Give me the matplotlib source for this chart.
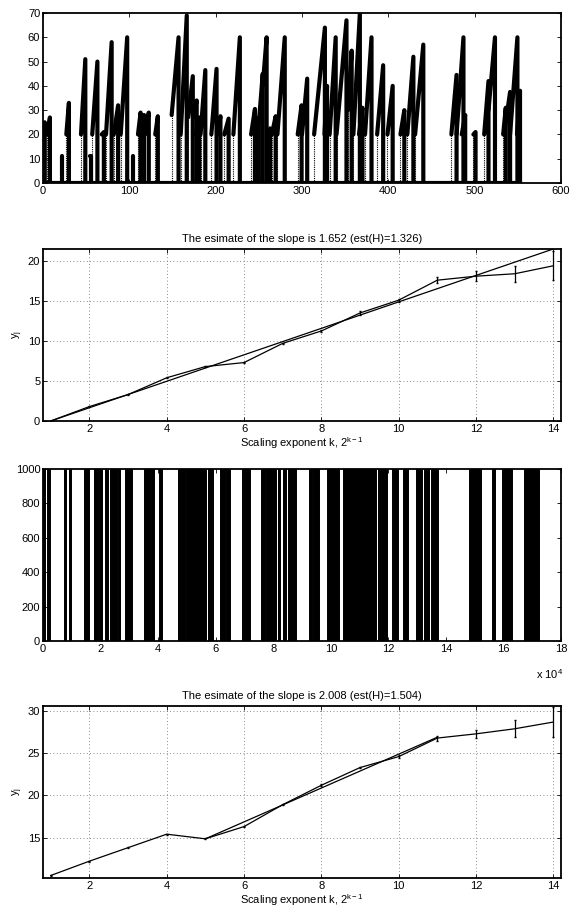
import matplotlib
matplotlib.use("Agg")
import matplotlib.pyplot as plt

plt.rcParams["font.family"] = ["Liberation Sans", "DejaVu Sans"]
plt.rcParams["mathtext.fontset"] = "custom"
plt.rcParams["mathtext.rm"] = "Liberation Sans"
plt.rcParams["mathtext.it"] = "Liberation Sans"

# --- panel 1: ramp spikes (start x, end x, base value, peak value)
spike_x0 = [0, 5, 22, 27, 44, 55, 57, 68, 73, 82, 90, 104, 110, 114, 118, 130,
            149, 159.5, 168, 174, 177, 182.5, 195, 202, 210, 220.5, 241, 246,
            250.5, 254.5, 260, 265, 271.5, 295, 300, 314, 326, 332, 340, 353,
            359.5, 366, 373, 387, 399, 414, 422, 431, 473, 479, 485, 498.5,
            511, 516, 533, 534, 541, 549]
spike_x1 = [2, 8, 22.5, 30, 49, 55.5, 63, 70.5, 79.5, 87, 97.5, 104.5, 113, 117,
            122.5, 133, 157, 166.5, 173.5, 178, 181, 188, 201, 205.5, 215, 228,
            245.5, 250, 254.5, 259, 263, 269.5, 280, 299.5, 306, 326.5, 329, 339,
            351.5, 357.5, 367, 370, 380.5, 394, 405, 418.5, 429, 440.5, 479, 487,
            489, 501, 516, 523.5, 536, 541, 549.5, 552.5]
spike_base = [20, 20, 11, 20, 20, 11, 20, 20, 20, 20, 20, 11, 20, 20, 20, 20,
              28, 20, 27, 27, 20, 20, 20, 20, 20, 20, 20, 20,
              27, 40, 20, 20, 20, 20, 20, 20, 20, 20, 20, 30,
              20, 20, 20, 20, 20, 20, 20, 20, 20, 20, 20, 20,
              20, 30, 20, 20, 20, 20]
spike_peak = [25, 27, 11, 33, 51, 11, 50, 21, 58, 32, 60, 11, 29, 28, 29, 27.5,
              60, 69, 44, 34, 27, 46.5, 47, 27.5, 26.5, 60, 30.5, 27,
              45, 60, 22.5, 27.5, 60, 32, 43, 64, 40, 60, 67, 54.5,
              70, 31, 60, 48.5, 40, 30, 52, 57, 44.5, 60, 28, 21,
              42, 60, 31, 37.5, 60, 38]
signal_end = 553

# --- panel 2: wavelet log-scale diagram, first series
k = [1, 2, 3, 4, 5, 6, 7, 8, 9, 10, 11, 12, 13, 14]
yj_a = [0, 1.8, 3.3, 5.4, 6.8, 7.3, 9.7, 11.25, 13.5, 15.1, 17.6, 18.1, 18.4, 19.4]
err_a = [0.05, 0.05, 0.05, 0.05, 0.05, 0.05, 0.1, 0.1, 0.2, 0.2, 0.4, 0.6, 1.0, 1.8]
fit_a_x = [1, 14]
fit_a_y = [0, 21.5]
title_a = "The esimate of the slope is 1.652 (est(H)=1.326)"

# --- panel 3: on/off signal, intervals at level 1000 (x in units of 1e4)
band_start = [0.0, 0.15, 0.73, 0.89, 1.42, 1.77, 1.95, 2.16, 2.32, 2.61, 2.84,
              3.50, 3.76, 4.03, 4.68, 4.98, 5.73, 6.14, 6.37, 6.93, 7.58,
              7.76, 8.15, 8.34, 8.51, 9.25, 9.38, 9.88, 10.43, 11.63, 11.70,
              12.13, 12.52, 12.95, 13.08, 13.25, 13.49, 14.81, 15.61, 15.95,
              16.73]
band_end = [0.08, 0.24, 0.80, 0.98, 1.61, 1.91, 2.04, 2.25, 2.56, 2.67, 3.08,
            3.71, 3.85, 4.13, 4.93, 5.65, 5.91, 6.32, 6.51, 7.18, 7.71,
            8.10, 8.22, 8.45, 8.78, 9.34, 9.60, 10.30, 11.57, 11.66, 11.94,
            12.35, 12.69, 13.05, 13.17, 13.41, 13.73, 15.23, 15.69, 16.31,
            17.24]
band_level = 1000

# --- panel 4: second log-scale diagram
yj_b = [10.5, 12.2, 13.8, 15.4, 14.85, 16.3, 18.9, 21.2, 23.3, 24.6, 26.8, 27.3, 27.9, 28.7]
err_b = [0.05, 0.05, 0.05, 0.05, 0.05, 0.05, 0.05, 0.1, 0.1, 0.15, 0.3, 0.5, 1.0, 1.8]
fit_b_x = [5, 11]
fit_b_y = [14.85, 26.9]
title_b = "The esimate of the slope is 2.008 (est(H)=1.504)"

xlabel_k = "Scaling exponent k, 2$^{k\u22121}$"
FS = 8


def style(ax, grid=False):
    ax.tick_params(direction="in", top=True, right=True, length=3,
                   labelsize=FS, width=0.6, pad=2)
    for s in ax.spines.values():
        s.set_linewidth(1.3)
    if grid:
        ax.grid(True, linestyle=(0, (1, 3)), color="0.4", linewidth=0.6)
        ax.set_axisbelow(True)


fig = plt.figure(figsize=(5.72, 9.11), dpi=100)
L, W, H = 0.0752, 0.9056, 0.1888

# panel 1
ax1 = fig.add_axes([L, 0.7991, W, 0.1866])
ax1.plot([0, signal_end], [0, 0], color="k", lw=3.0)
for x0, x1, b, p in zip(spike_x0, spike_x1, spike_base, spike_peak):
    ax1.plot([x0, x0], [0, b], color="k", lw=0.8, linestyle=(0, (1, 1)))
    ax1.plot([x0, x1, x1], [b, p, 0], color="k", lw=3.0,
             solid_capstyle="round", solid_joinstyle="round")
ax1.set_xlim(0, 600)
ax1.set_ylim(0, 70)
ax1.set_xticks(range(0, 601, 100))
ax1.set_yticks(range(0, 71, 10))
style(ax1)

# panel 2
ax2 = fig.add_axes([L, 0.5379, W, H])
ax2.errorbar(k, yj_a, yerr=err_a, color="k", lw=0.9, elinewidth=0.9, capsize=1)
ax2.plot(fit_a_x, fit_a_y, color="k", lw=0.9)
ax2.set_xlim(0.8, 14.2)
ax2.set_ylim(0, 21.5)
ax2.set_xticks(range(2, 15, 2))
ax2.set_yticks(range(0, 21, 5))
ax2.set_title(title_a, fontsize=FS, pad=5)
ax2.set_xlabel(xlabel_k, fontsize=FS, labelpad=1)
ax2.set_ylabel("y$_j$", fontsize=FS, labelpad=2)
style(ax2, grid=True)

# panel 3
ax3 = fig.add_axes([L, 0.2964, W, H])
widths = [e - s for s, e in zip(band_start, band_end)]
ax3.bar(band_start, [band_level] * len(band_start), width=widths, align="edge",
        color="k", edgecolor="k", linewidth=0.7)
ax3.set_xlim(0, 18)
ax3.set_ylim(0, 1000)
ax3.set_xticks(range(0, 19, 2))
ax3.set_yticks(range(0, 1001, 200))
ax3.text(1.005, -0.235, "x 10$^{4}$", transform=ax3.transAxes, fontsize=FS,
         ha="right", va="bottom")
style(ax3)

# panel 4
ax4 = fig.add_axes([L, 0.0362, W, H])
ax4.errorbar(k, yj_b, yerr=err_b, color="k", lw=0.9, elinewidth=0.9, capsize=1)
ax4.plot(fit_b_x, fit_b_y, color="k", lw=0.9)
ax4.set_xlim(0.8, 14.2)
ax4.set_ylim(10.2, 30.6)
ax4.set_xticks(range(2, 15, 2))
ax4.set_yticks(range(15, 31, 5))
ax4.set_title(title_b, fontsize=FS, pad=5)
ax4.set_xlabel(xlabel_k, fontsize=FS, labelpad=1)
ax4.set_ylabel("y$_j$", fontsize=FS, labelpad=2)
style(ax4, grid=True)

fig.savefig("out.png", dpi=100)
